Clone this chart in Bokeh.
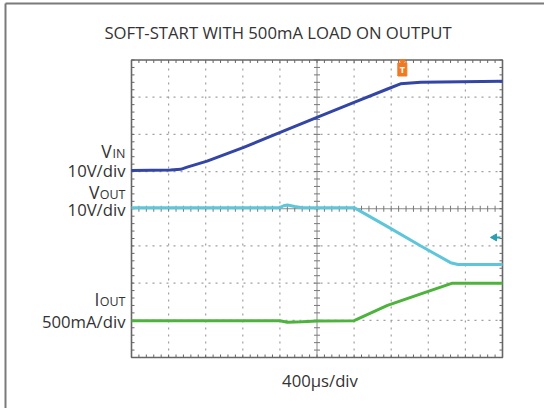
from bokeh.plotting import figure
from bokeh.models import Range1d
from bokeh.embed import file_html
from bokeh.resources import INLINE
from bokeh.core.properties import value
import numpy as np

# ---- data (time in microseconds, trace levels in screen divisions) ----
title_text = "SOFT-START WITH 500mA LOAD ON OUTPUT"
x_label = "400\u00b5s/div"

t_vin = [0, 420, 530, 600, 815, 1210, 1610, 2000, 2400, 2760, 2900, 3120, 4000]
v_vin = [5.03, 5.04, 5.06, 5.12, 5.28, 5.65, 6.06, 6.46, 6.86, 7.22, 7.36, 7.40, 7.43]

t_vout = [0, 1600, 1640, 1680, 1760, 1840, 2400, 2760, 3120, 3440, 3520, 4000]
v_vout = [4.03, 4.03, 4.08, 4.10, 4.06, 4.03, 4.03, 3.52, 3.00, 2.55, 2.50, 2.50]

t_iout = [0, 1600, 1680, 1840, 2000, 2400, 2760, 3120, 3460, 4000]
v_iout = [0.99, 0.99, 0.95, 0.96, 0.98, 0.99, 1.40, 1.71, 2.00, 2.00]

trigger_t = 2920
ref_arrow_level = 3.23

ch_names = ["V", "V", "I"]
ch_subs = ["IN", "OUT", "OUT"]
ch_scales = ["10V/div", "10V/div", "500mA/div"]

# ---- layout (pixels) ----
W, H = 544, 408
GL, GR, GT, GB = 131, 502, 59.5, 357       # graticule box
T_SPAN, N_DIV = 4000, 8
XS = T_SPAN / (GR - GL)                     # us per px
YS = N_DIV / (GB - GT)                      # div per px


def dx(px):
    return (px - GL) * XS


def dy(py):
    return (GB - py) * YS


C_VIN = "#3346a6"
C_VOUT = "#5ec6db"
C_IOUT = "#4db33c"
AX = "#666666"
TXT = "#333333"
FONT = value("Open Sans")
MAIN_FS = 16.7
SUB_FS = 12.5

p = figure(width=W, height=H, output_backend="svg", toolbar_location=None,
           x_range=Range1d(dx(0), dx(W)), y_range=Range1d(dy(H), dy(0)),
           min_border=0)
p.axis.visible = False
p.grid.visible = False
p.outline_line_color = None
p.background_fill_color = "white"
p.border_fill_color = "white"

x_major = list(range(0, T_SPAN + 1, 400))
x_minor = list(range(0, T_SPAN + 1, 80))
y_major = list(range(0, N_DIV + 1))
y_minor = [round(v, 2) for v in np.arange(0, N_DIV + 0.001, 0.2)]

# outer picture frame (left and top edges)
p.segment(x0=[dx(5), dx(5)], y0=[dy(3), dy(3)], x1=[dx(5), dx(W + 5)], y1=[dy(H + 5), dy(3)],
          line_color="#7a7a7a", line_width=2)

# dotted graticule
gx = [t for t in x_major[1:-1] if t != 2000]
gy = [v for v in y_major[1:-1] if v != 4]
p.segment(x0=gx, y0=[0] * len(gx), x1=gx, y1=[N_DIV] * len(gx),
          line_color="#a0a0a0", line_width=1.2, line_dash="2 5")
p.segment(x0=[0] * len(gy), y0=gy, x1=[T_SPAN] * len(gy), y1=gy,
          line_color="#a0a0a0", line_width=1.2, line_dash="2 5")

# centre crosshair with ticks
xc, yc = 2000, 4
p.segment(x0=[xc, 0], y0=[0, yc], x1=[xc, T_SPAN], y1=[N_DIV, yc],
          line_color="#8a8a8a", line_width=1)
p.segment(x0=[xc - 3 * XS] * len(y_minor), y0=y_minor, x1=[xc + 3 * XS] * len(y_minor), y1=y_minor,
          line_color="#777777", line_width=1)
p.segment(x0=x_minor, y0=[yc - 3 * YS] * len(x_minor), x1=x_minor, y1=[yc + 3 * YS] * len(x_minor),
          line_color="#777777", line_width=1)

# border ticks (pointing inwards)
tl = 3
p.segment(x0=x_minor, y0=[0] * len(x_minor), x1=x_minor, y1=[tl * YS] * len(x_minor),
          line_color=AX, line_width=1)
p.segment(x0=x_minor, y0=[N_DIV] * len(x_minor), x1=x_minor, y1=[N_DIV - tl * YS] * len(x_minor),
          line_color=AX, line_width=1)
p.segment(x0=[0] * len(y_minor), y0=y_minor, x1=[tl * XS] * len(y_minor), y1=y_minor,
          line_color=AX, line_width=1)
p.segment(x0=[T_SPAN] * len(y_minor), y0=y_minor, x1=[T_SPAN - tl * XS] * len(y_minor), y1=y_minor,
          line_color=AX, line_width=1)
# graticule border
p.rect(x=[T_SPAN / 2], y=[N_DIV / 2], width=[T_SPAN], height=[N_DIV],
       fill_color=None, line_color=AX, line_width=1.6)

# traces
p.line(t_iout, v_iout, line_color=C_IOUT, line_width=3)
p.line(t_vout, v_vout, line_color=C_VOUT, line_width=3)
p.line(t_vin, v_vin, line_color=C_VIN, line_width=3)

# trigger marker
p.scatter([trigger_t], [dy(61)], marker="inverted_triangle", size=6, color="#f07a22")
p.rect([trigger_t], [dy(69)], width=9, height=13, width_units="screen", height_units="screen",
       fill_color="#f07a22", line_color="#f07a22")
p.text([trigger_t], [dy(69)], text=["T"], text_color="white", text_font=FONT,
       text_font_size="9px", text_font_style="bold", text_align="center", text_baseline="middle")

# channel reference arrow
p.segment(x0=[dx(494)], y0=[ref_arrow_level], x1=[dx(500)], y1=[ref_arrow_level],
          line_color="#2a9fb0", line_width=2)
p.scatter([dx(494)], [ref_arrow_level], marker="triangle", angle=np.pi / 2, size=7,
          color="#2a9fb0")

# channel labels
name_py = [150, 191, 298]
scale_py = [170, 209, 321]
sub_w = [1.1 * SUB_FS, 2.08 * SUB_FS, 2.08 * SUB_FS]
right_px = 125
p.text(x=[dx(right_px)] * 3, y=[dy(v + 3) for v in name_py], text=ch_subs,
       text_font=FONT, text_font_size=f"{SUB_FS}px", text_color=TXT,
       text_align="right", text_baseline="middle")
p.text(x=[dx(right_px - w) for w in sub_w], y=[dy(v) for v in name_py], text=ch_names,
       text_font=FONT, text_font_size="17.5px", text_color=TXT,
       text_align="right", text_baseline="middle")
p.text(x=[dx(right_px)] * 3, y=[dy(v) for v in scale_py], text=ch_scales,
       text_font=FONT, text_font_size=f"{MAIN_FS}px", text_color=TXT,
       text_align="right", text_baseline="middle")

# title and time-base label
p.text(x=[dx(277.5)], y=[dy(31.5)], text=[title_text], text_font=FONT,
       text_font_size=f"{MAIN_FS}px", text_color=TXT, text_align="center", text_baseline="middle")
p.text(x=[dx(319.5)], y=[dy(380)], text=[x_label], text_font=FONT,
       text_font_size=f"{MAIN_FS}px", text_color=TXT, text_align="center", text_baseline="middle")

open("out.html", "w").write(file_html(p, INLINE))
